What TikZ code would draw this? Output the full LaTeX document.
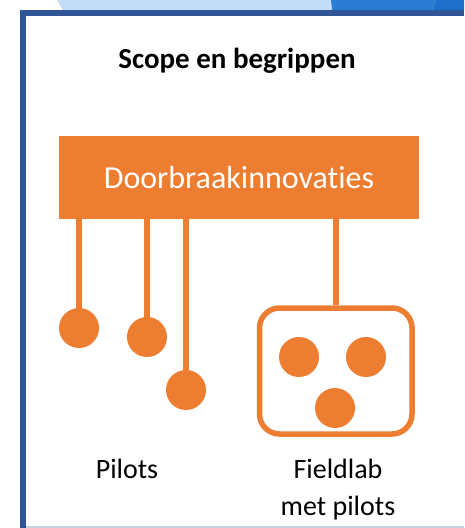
\documentclass[tikz,border=0pt]{standalone}
\usepackage{fontspec}
\setmainfont{Carlito}[Ligatures=NoCommon]
\usepackage{tikz}
\usetikzlibrary{positioning}
\definecolor{innovorange}{HTML}{ED7D31}
\definecolor{frameblue}{HTML}{2F5597}
\definecolor{skyblue}{HTML}{C3DDF7}
\definecolor{midblue}{HTML}{2B7CD3}
\definecolor{deepblue}{HTML}{1E70CC}
\definecolor{edgegray}{HTML}{C9D1DC}
\tikzset{pilot/.style={circle, fill=innovorange, inner sep=0pt, minimum size=40pt}}
\tikzset{stem/.style={draw=innovorange, line width=6pt}}
\tikzset{caption/.style={font=\fontsize{28}{37}\selectfont, align=center, anchor=base}}

\begin{document}
\begin{tikzpicture}[x=1pt,y=-1pt]
  \useasboundingbox (0,0) rectangle (464,528);
  \fill[skyblue] (57,0) -- (331,0) -- (332,10) -- (63,10) -- cycle;
  \fill[midblue] (331,0) -- (436,0) -- (432,10) -- (332,10) -- cycle;
  \fill[deepblue] (436,0) -- (464,0) -- (464,10) -- (432,10) -- cycle;
  \fill[frameblue] (20,10) rectangle (464,16);
  \fill[frameblue] (20,10) rectangle (26,528);
  \fill[edgegray] (26,526) rectangle (464,528);

  \node[font=\bfseries\fontsize{29}{34}\selectfont, anchor=base] (title) at (237,68) {Scope en begrippen};
  \node[fill=innovorange, text=white, minimum width=360pt, minimum height=83pt,
    font=\fontsize{32}{37}\selectfont] (innov) at (239,177.5) {Doorbraakinnovaties};

  \foreach \x/\y/\lab in {
    79/328/p1,
    147/337/p2,
    186/390/p3%
  } {
    \node[pilot] (\lab) at (\x, \y) {};
    \draw[stem] (\lab.center) -- (\lab.center |- innov.south);
  }

  \node[draw=innovorange, line width=5.5pt, rounded corners=20pt,
    minimum width=152.5pt, minimum height=126pt] (fieldlab) at (335.75,371) {};
  \foreach \x/\y/\lab in {
    299/357/f1,
    366/357/f2,
    335/408/f3%
  } {
    \node[pilot] (\lab) at (\x, \y) {};
  }
  \draw[stem] (fieldlab.north) -- (fieldlab.north |- innov.south);

  \node[caption] (pilots) at (127,478) {Pilots};
  \node[caption] (fieldlabtext) at (338,515) {Fieldlab\\met pilots};
\end{tikzpicture}
\end{document}
